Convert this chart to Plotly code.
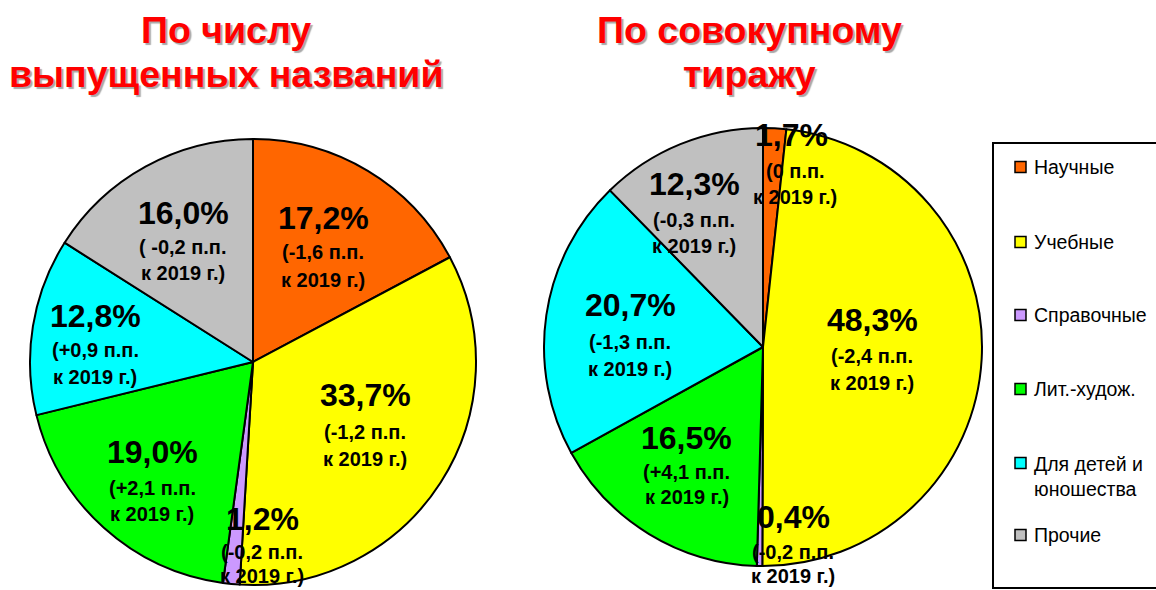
import plotly.graph_objects as go

W, H = 1156, 590

categories = ["Научные", "Учебные", "Справочные", "Лит.-худож.", "Для детей и<br>юношества", "Прочие"]
colors = ["#FF6600", "#FFFF00", "#CC99FF", "#00FF00", "#00FFFF", "#C0C0C0"]

titles_share = [17.2, 33.7, 1.2, 19.0, 12.8, 16.0]
print_share = [1.7, 48.3, 0.4, 16.5, 20.7, 12.3]

titles_change = ["(-1,6 п.п.", "(-1,2 п.п.", "(-0,2 п.п.", "(+2,1 п.п.", "(+0,9 п.п.", "( -0,2 п.п."]
print_change = ["(0 п.п.", "(-2,4 п.п.", "(-0,2 п.п.", "(+4,1 п.п.", "(-1,3 п.п.", "(-0,3 п.п."]
ref_year = "к 2019 г.)"

chart_titles = [["По числу", "выпущенных названий"], ["По совокупному", "тиражу"]]

# label layout (pixel centres): (x, y_big, y_line2, y_line3, x_sub)
pos1 = [(323, 218, 252, 280, 323), (365, 395, 432, 459, 365), (262, 519, 552, 576, 262),
        (152, 452, 488, 514, 152), (95, 316, 350, 377, 95), (183, 213, 247, 273, 183)]
pos2 = [(792, 135, 171, 197, 795), (872, 320, 356, 383, 872), (793, 517, 552, 576, 793),
        (687, 438, 472, 497, 687), (630, 305, 342, 369, 630), (694, 184, 220, 246, 694)]


def px(x):
    return x / W


def py(y):
    return 1 - y / H


FONT = "Arial, Liberation Sans, sans-serif"

fig = go.Figure()


def add_pie(values, cx, cy, r):
    fig.add_trace(go.Pie(
        labels=categories, values=values, sort=False, direction="clockwise", rotation=0,
        marker=dict(colors=colors, line=dict(color="black", width=2)),
        textinfo="none", hoverinfo="label+percent", showlegend=False,
        domain=dict(x=[px(cx - r), px(cx + r)], y=[py(cy + r), py(cy - r)]),
    ))


add_pie(titles_share, 253, 362, 223)
add_pie(print_share, 763, 347, 219)

ann = []


def text(x, y, t, size, color="black", bold=True, xanchor="center", shadow=None):
    f = dict(family=FONT, size=size, color=color)
    if shadow:
        f["shadow"] = shadow
    ann.append(dict(x=px(x), y=py(y), xref="paper", yref="paper", text=("<b>%s</b>" % t) if bold else t,
                    showarrow=False, xanchor=xanchor, yanchor="middle", font=f))


def fmt(v):
    return ("%.1f%%" % v).replace(".", ",")


for vals, chg, pos in [(titles_share, titles_change, pos1), (print_share, print_change, pos2)]:
    for v, c, (x, yb, y2, y3, xs) in zip(vals, chg, pos):
        text(x, yb, fmt(v), 32)
        text(xs, y2, c, 20)
        text(xs, y3, ref_year, 20)

# titles with shadow
title_pos = [(226, [30, 74]), (750, [30, 74])]
for lines, (x, ys) in zip(chart_titles, title_pos):
    for t, y in zip(lines, ys):
        text(x, y, t, 37.5, color="#FF0000", shadow="2px 2px 1px #A8A8A8")

# legend
shapes = [dict(type="rect", xref="paper", yref="paper", x0=px(993), x1=px(1162), y0=py(588), y1=py(143),
               line=dict(color="black", width=2), fillcolor="rgba(0,0,0,0)")]
leg_y = [167, 242, 315, 389, 463, 535]
leg_text_y = [167, 242, 315, 389, 476, 535]
for cat, col, y, ty in zip(categories, colors, leg_y, leg_text_y):
    shapes.append(dict(type="rect", xref="paper", yref="paper", x0=px(1015), x1=px(1026),
                       y0=py(y + 5.5), y1=py(y - 5.5), line=dict(color="black", width=1.5), fillcolor=col))
    ann.append(dict(x=px(1032), y=py(ty), xref="paper", yref="paper", text=cat, showarrow=False,
                    xanchor="left", yanchor="middle", align="left",
                    font=dict(family=FONT, size=19.5, color="black")))

fig.update_layout(width=W, height=H, margin=dict(l=0, r=0, t=0, b=0),
                  paper_bgcolor="white", plot_bgcolor="white",
                  annotations=ann, shapes=shapes)

fig.write_html("out.html", config={"displayModeBar": False},
               post_script="document.body.style.margin='0';document.body.style.overflow='hidden';")
